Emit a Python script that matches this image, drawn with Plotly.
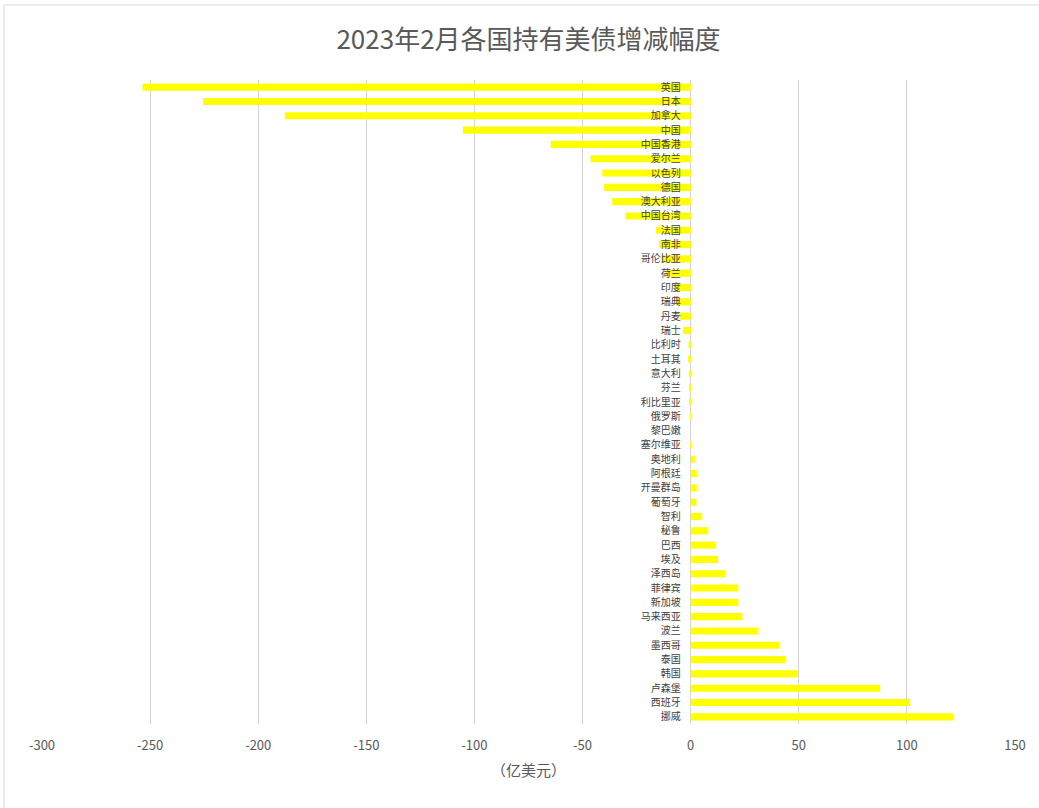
import plotly.graph_objects as go

# 2023年2月各国持有美债增减幅度（亿美元）
countries = [
    "英国", "日本", "加拿大", "中国", "中国香港", "爱尔兰", "以色列", "德国",
    "澳大利亚", "中国台湾", "法国", "南非", "哥伦比亚", "荷兰", "印度", "瑞典",
    "丹麦", "瑞士", "比利时", "土耳其", "意大利", "芬兰", "利比里亚", "俄罗斯",
    "黎巴嫩", "塞尔维亚", "奥地利", "阿根廷", "开曼群岛", "葡萄牙", "智利", "秘鲁",
    "巴西", "埃及", "泽西岛", "菲律宾", "新加坡", "马来西亚", "波兰", "墨西哥",
    "泰国", "韩国", "卢森堡", "西班牙", "挪威",
]
changes = [
    -253.5, -225.5, -187.7, -105.4, -64.8, -46.3, -40.9, -40.1,
    -36.3, -30.1, -16.0, -14.6, -13.7, -11.3, -7.6, -6.7,
    -5.1, -3.5, -1.0, -1.2, -0.8, -0.5, -0.5, -0.1,
    0.0, 0.1, 1.9, 2.8, 2.8, 2.6, 4.8, 8.1,
    11.7, 12.6, 15.9, 22.0, 22.0, 23.9, 31.3, 41.2,
    43.7, 49.5, 87.6, 101.4, 121.3,
]
x_ticks = [-300, -250, -200, -150, -100, -50, 0, 50, 100, 150]

x_min, x_max = -300, 150
grey = "#595959"
font_family = "Noto Sans CJK SC, Noto Sans, sans-serif"

fig = go.Figure(
    go.Bar(
        x=changes,
        y=countries,
        orientation="h",
        width=0.5,
        marker=dict(color="#FFFF00", line=dict(width=0)),
        hovertemplate="%{y}: %{x}<extra></extra>",
    )
)

fig.update_layout(
    width=1039,
    height=808,
    margin=dict(l=42, r=24, t=80, b=84),
    paper_bgcolor="white",
    plot_bgcolor="white",
    showlegend=False,
    font=dict(family=font_family, color=grey),
    title=dict(
        text="2023年2月各国持有美债增减幅度",
        xref="paper",
        x=0.5,
        xanchor="center",
        y=1 - 40 / 808,
        yanchor="middle",
        font=dict(size=26, color=grey, family=font_family),
    ),
    xaxis=dict(
        range=[x_min, x_max],
        tickvals=x_ticks,
        ticktext=[str(v) for v in x_ticks],
        showgrid=True,
        gridcolor="#d4d4d4",
        gridwidth=1,
        zeroline=True,
        zerolinecolor="#d4d4d4",
        zerolinewidth=1,
        showline=False,
        ticks="",
        tickfont=dict(size=13, color=grey),
        ticklabelstandoff=12,
        title=dict(text="（亿美元）", font=dict(size=15, color=grey), standoff=12),
        fixedrange=True,
    ),
    yaxis=dict(
        autorange="reversed",
        anchor="free",
        position=(0 - x_min) / (x_max - x_min),
        showgrid=False,
        zeroline=False,
        showline=False,
        ticks="",
        tickfont=dict(size=10, color="#404040"),
        ticklabelstandoff=10,
        fixedrange=True,
    ),
    shapes=[
        dict(
            type="rect",
            xref="paper",
            yref="paper",
            x0=(4 - 42) / 973,
            x1=1.2,
            y0=-0.3,
            y1=(723.6 - 5) / 643.6,
            line=dict(color="#d9d9d9", width=1),
            fillcolor="rgba(0,0,0,0)",
            layer="below",
        )
    ],
)

fig.write_html("out.html")
